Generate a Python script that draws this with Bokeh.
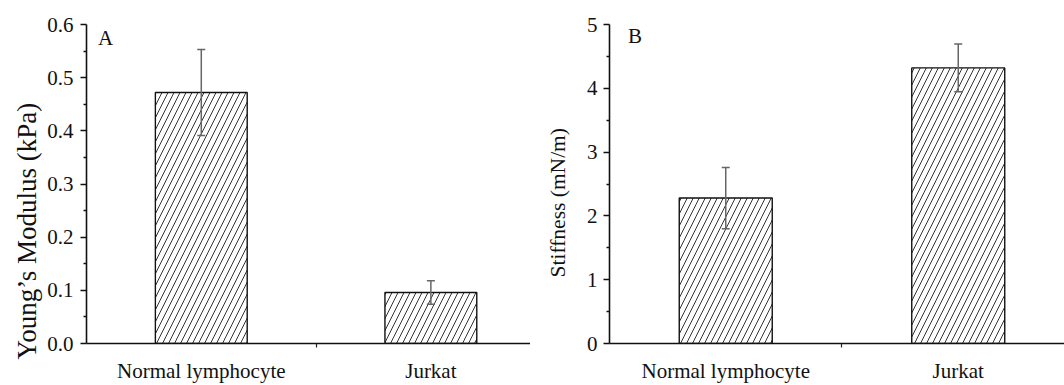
from bokeh.plotting import figure
from bokeh.models import (ColumnDataSource, Range1d, FixedTicker, Whisker, TeeHead,
                          Label, PrintfTickFormatter, Title)
from bokeh.layouts import row
from bokeh.embed import file_html
from bokeh.resources import INLINE

# ---- data ----
categories = ["Normal lymphocyte", "Jurkat"]
modulus = [0.472, 0.096]          # Young's modulus (kPa)
modulus_err = [0.081, 0.022]
stiffness = [2.28, 4.32]          # Stiffness (mN/m)
stiffness_err = [0.48, 0.375]

modulus_ticks = [0.0, 0.1, 0.2, 0.3, 0.4, 0.5, 0.6]
modulus_minor = [0.05, 0.15, 0.25, 0.35, 0.45, 0.55]
stiffness_ticks = [0, 1, 2, 3, 4, 5]
stiffness_minor = [0.5, 1.5, 2.5, 3.5, 4.5]

FONT = "Liberation Serif"


def make_panel(values, errs, ylabel, yticks, yminor, ymax, fmt, letter,
               width, border_left, x_end, letter_xy, ylabel_size, ylabel_offset,
               ylabel_standoff, tick_standoff):
    xs = [i + 1 for i in range(len(categories))]
    src = ColumnDataSource(dict(
        x=xs, top=values,
        upper=[v + e for v, e in zip(values, errs)],
        lower=[v - e for v, e in zip(values, errs)],
    ))
    p = figure(width=width, height=385, x_range=Range1d(0.5, x_end),
               y_range=Range1d(0, ymax), output_backend="svg",
               toolbar_location=None, min_border_left=border_left,
               min_border_right=0, min_border_top=24, min_border_bottom=39)
    p.outline_line_color = None
    p.xgrid.visible = False
    p.ygrid.visible = False
    p.background_fill_color = "white"

    p.vbar(x="x", top="top", bottom=0, width=0.4, source=src,
           fill_color="white", line_color="#111111", line_width=1.4,
           hatch_pattern="/", hatch_color="#333333", hatch_scale=12,
           hatch_weight=1.0)

    w = Whisker(source=src, base="x", upper="upper", lower="lower",
                dimension="height", line_color="#666666", line_width=1.5,
                upper_head=TeeHead(size=8, line_color="#666666", line_width=1.5),
                lower_head=TeeHead(size=8, line_color="#666666", line_width=1.5),
                level="annotation")
    p.add_layout(w)

    # x axis
    xa = p.xaxis[0]
    xa.ticker = FixedTicker(ticks=xs, minor_ticks=[1.5, 2.5])
    xa.major_label_overrides = {x: c for x, c in zip(xs, categories)}
    xa.major_tick_line_color = None
    xa.major_tick_out = 0
    xa.major_tick_in = 0
    xa.minor_tick_out = 4
    xa.minor_tick_in = 0
    xa.minor_tick_line_width = 1.2
    xa.minor_tick_line_color = "#222222"
    xa.major_label_standoff = 11
    xa.major_label_text_font = FONT
    xa.major_label_text_font_size = "21px"
    xa.major_label_text_color = "#111111"
    xa.axis_line_width = 1.6
    xa.axis_line_color = "#111111"

    # y axis
    ya = p.yaxis[0]
    ya.ticker = FixedTicker(ticks=yticks, minor_ticks=yminor)
    ya.formatter = PrintfTickFormatter(format=fmt)
    ya.major_tick_out = 6
    ya.major_tick_in = 0
    ya.minor_tick_out = 3
    ya.minor_tick_in = 0
    ya.major_tick_line_width = 1.5
    ya.minor_tick_line_width = 1.3
    ya.major_tick_line_color = "#111111"
    ya.minor_tick_line_color = "#111111"
    ya.axis_line_width = 1.6
    ya.axis_line_color = "#111111"
    ya.major_label_standoff = tick_standoff
    ya.major_label_text_font = FONT
    ya.major_label_text_font_size = "21px"
    ya.major_label_text_color = "#111111"

    # y-axis title as a side title so it can sit below the axis centre
    p.add_layout(Title(text=ylabel, align="left", offset=ylabel_offset,
                       standoff=ylabel_standoff, text_font=FONT,
                       text_font_size=ylabel_size, text_font_style="normal",
                       text_color="#111111"), "left")

    p.add_layout(Label(x=letter_xy[0], y=letter_xy[1], text=letter,
                       text_font=FONT, text_font_size="21px",
                       text_color="#111111", text_baseline="alphabetic"))
    return p


pa = make_panel(modulus, modulus_err, "Young\u2019s Modulus (kPa)", modulus_ticks,
                modulus_minor, 0.6, "%.1f", "A", width=530, border_left=86,
                x_end=2.434, letter_xy=(0.55, 0.575), ylabel_size="27px",
                ylabel_offset=-16, ylabel_standoff=5, tick_standoff=7)
pb = make_panel(stiffness, stiffness_err, "Stiffness (mN/m)", stiffness_ticks,
                stiffness_minor, 5, "%d", "B", width=534, border_left=74,
                x_end=2.457, letter_xy=(0.58, 4.82), ylabel_size="21.5px",
                ylabel_offset=66, ylabel_standoff=27, tick_standoff=6)

layout = row(pa, pb, spacing=0)
open("out.html", "w").write(file_html(layout, INLINE))
